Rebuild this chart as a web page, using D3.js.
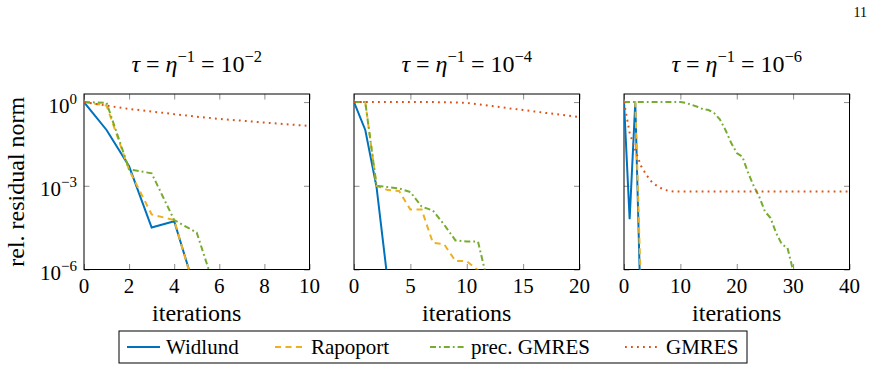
<!DOCTYPE html>
<html>
<head>
<meta charset="utf-8">
<script src="https://cdn.jsdelivr.net/npm/d3@7"></script>
</head>
<body style="margin:0;background:#fff">
<script>
// residual history per panel, index = iteration
const widlundA   = [1, 0.1, 5e-3, 3.2e-5, 5.4e-5, 1.2e-7];
const rapoportA  = [1, 0.75, 3.7e-3, 9.4e-5, 5.9e-5, 1e-7];
const precGmresA = [1, 0.95, 3.9e-3, 2.8e-3, 5.9e-5, 2.1e-5, 6.7e-8];
const gmresA     = [1, 0.75, 0.57, 0.46, 0.37, 0.3, 0.25, 0.215, 0.185, 0.16, 0.14];

const widlundB   = [1, 0.1, 9e-4, 3.5e-7];
const rapoportB  = [1, 1, 1e-3, 7e-4, 6.5e-4, 1.4e-4, 1.4e-4, 9e-6, 8e-6, 2e-6, 2e-6, 9.3e-7, 1e-8];
const precGmresB = [1, 1, 1e-3, 9e-4, 8e-4, 6e-4, 1.8e-4, 1.3e-4, 4e-5, 1.1e-5, 1e-5, 1e-5, 2e-7];
const gmresB     = [1, 1, 1, 1, 1, 1, 1, 1, 0.99, 0.97, 0.93, 0.83, 0.74, 0.66, 0.58, 0.52,
                    0.46, 0.41, 0.37, 0.33, 0.29];

const widlundC   = [1, 6.4e-5, 0.95, 1.6e-8];
const rapoportC  = [1, 1, 1, 2e-7];
const precGmresC = [1, 1, 1, 1, 1, 1, 1, 1, 1, 1, 1, 0.93, 0.8, 0.68, 0.56, 0.52, 0.4, 0.24,
                    0.1, 0.035, 0.015, 0.011, 3e-3, 1e-3, 4e-4, 1.2e-4, 7e-5, 2e-5, 8e-6, 6e-6, 9e-7, 5e-8];
const gmresC     = [1, 0.08, 0.019, 5.2e-3, 2.4e-3, 1.3e-3, 9.5e-4, 7.4e-4, 6.5e-4, 6.2e-4,
                    6.2e-4, 6.2e-4, 6.2e-4, 6.2e-4, 6.2e-4, 6.2e-4, 6.2e-4, 6.2e-4, 6.2e-4, 6.2e-4,
                    6.2e-4, 6.2e-4, 6.2e-4, 6.2e-4, 6.2e-4, 6.2e-4, 6.2e-4, 6.2e-4, 6.2e-4, 6.2e-4,
                    6.2e-4, 6.2e-4, 6.2e-4, 6.2e-4, 6.2e-4, 6.2e-4, 6.2e-4, 6.2e-4, 6.2e-4, 6.2e-4, 6.2e-4];

const seriesNames = ["Widlund", "Rapoport", "prec. GMRES", "GMRES"];
const titleExps = ["\u22122", "\u22124", "\u22126"];
const xMaxes = [10, 20, 40];
const xTickVals = [[0, 2, 4, 6, 8, 10], [0, 5, 10, 15, 20], [0, 10, 20, 30, 40]];
const yTickVals = [1, 1e-3, 1e-6];
const yTickExps = ["0", "\u22123", "\u22126"];

const panels = [
  [widlundA, rapoportA, precGmresA, gmresA],
  [widlundB, rapoportB, precGmresB, gmresB],
  [widlundC, rapoportC, precGmresC, gmresC]
];

// look
const colors = ["#0072bd", "#edb120", "#77ac30", "#d95319"];
const dashes = [null, "6 4.5", "6 3 1.8 3", "1.8 4.2"];
const FONT = "Liberation Serif";

const W = 873, H = 391;
const lefts = [84, 354, 624];
const pw = 225.5, plotTop = 94, plotBottom = 269.5;
const tickLen = 5.5, tickCol = "#8c8c8c";

const svg = d3.select("body").append("svg")
  .attr("width", W).attr("height", H)
  .style("display", "block");

// all text goes straight onto the svg root
function label(x, y, size, anchor) {
  return svg.append("text").attr("x", x).attr("y", y)
    .attr("font-family", FONT).attr("font-size", size)
    .attr("text-anchor", anchor || "start");
}

label(867, 17, 14, "end").text("11");

const y = d3.scaleLog().domain([1e-6, Math.pow(10, 0.29)]).range([plotBottom, plotTop]);

panels.forEach((series, p) => {
  const left = lefts[p];
  const x = d3.scaleLinear().domain([0, xMaxes[p]]).range([left, left + pw]);
  const g = svg.append("g");

  // title
  const t = label(left + pw / 2, 72, 24, "middle");
  t.append("tspan").attr("font-style", "italic").text("\u03c4");
  t.append("tspan").text(" = ");
  t.append("tspan").attr("font-style", "italic").text("\u03b7");
  t.append("tspan").attr("font-size", 16.5).attr("dy", -10).text("\u22121");
  t.append("tspan").attr("dy", 10).text(" = 10");
  t.append("tspan").attr("font-size", 16.5).attr("dy", -10).text(titleExps[p]);

  // ticks on all four sides, pointing inwards (labels drawn separately)
  const xb = g.append("g").attr("transform", `translate(0,${plotBottom})`)
    .call(d3.axisBottom(x).tickValues(xTickVals[p]).tickSize(-tickLen).tickFormat(() => ""));
  const xt = g.append("g").attr("transform", `translate(0,${plotTop})`)
    .call(d3.axisTop(x).tickValues(xTickVals[p]).tickSize(-tickLen).tickFormat(() => ""));
  const yl = g.append("g").attr("transform", `translate(${left},0)`)
    .call(d3.axisLeft(y).tickValues(yTickVals).tickSize(-tickLen).tickFormat(() => ""));
  const yr = g.append("g").attr("transform", `translate(${left + pw},0)`)
    .call(d3.axisRight(y).tickValues(yTickVals).tickSize(-tickLen).tickFormat(() => ""));

  [xb, xt, yl, yr].forEach(a => {
    a.select(".domain").remove();
    a.selectAll(".tick text").remove();
    a.selectAll(".tick line").attr("stroke", tickCol);
  });

  xTickVals[p].forEach(v => {
    label(x(v), plotBottom + 23.5, 21, "middle").text(v);
  });

  if (p === 0) {
    yTickVals.forEach((v, i) => {
      const tx = label(left - 7, y(v) + 10.5, 21, "end");
      tx.append("tspan").text("10");
      tx.append("tspan").attr("font-size", 15).attr("dy", -9).text(yTickExps[i]);
    });
    label(0, 0, 24, "middle")
      .attr("transform", `translate(24,${(plotTop + plotBottom) / 2}) rotate(-90)`)
      .text("rel. residual norm");
  }

  label(left + pw / 2, 321, 24, "middle").text("iterations");

  // frame
  g.append("rect").attr("x", left).attr("y", plotTop)
    .attr("width", pw).attr("height", plotBottom - plotTop)
    .attr("fill", "none").attr("stroke", "#000").attr("stroke-width", 1);

  // curves
  const clipId = "clip" + p;
  svg.append("clipPath").attr("id", clipId).append("rect")
    .attr("x", left).attr("y", plotTop - 2).attr("width", pw + 1).attr("height", plotBottom - plotTop + 2);

  const line = d3.line().x((d, i) => x(i)).y(d => y(d));
  const lines = g.append("g").attr("clip-path", `url(#${clipId})`);
  series.forEach((vals, s) => {
    lines.append("path").datum(vals)
      .attr("d", line)
      .attr("fill", "none")
      .attr("stroke", colors[s])
      .attr("stroke-width", 2)
      .attr("stroke-dasharray", dashes[s]);
  });
});

// legend
const legX = [127, 275, 430, 625];
const legLen = [33, 30, 35, 35];
svg.append("rect").attr("x", 119).attr("y", 331).attr("width", 628).attr("height", 32)
  .attr("fill", "#fff").attr("stroke", "#000").attr("stroke-width", 1);
seriesNames.forEach((name, s) => {
  svg.append("line")
    .attr("x1", legX[s]).attr("x2", legX[s] + legLen[s])
    .attr("y1", 347).attr("y2", 347)
    .attr("stroke", colors[s]).attr("stroke-width", 2)
    .attr("stroke-dasharray", dashes[s]);
  label(legX[s] + legLen[s] + 6, 354, 21).text(name);
});
</script>
</body>
</html>
